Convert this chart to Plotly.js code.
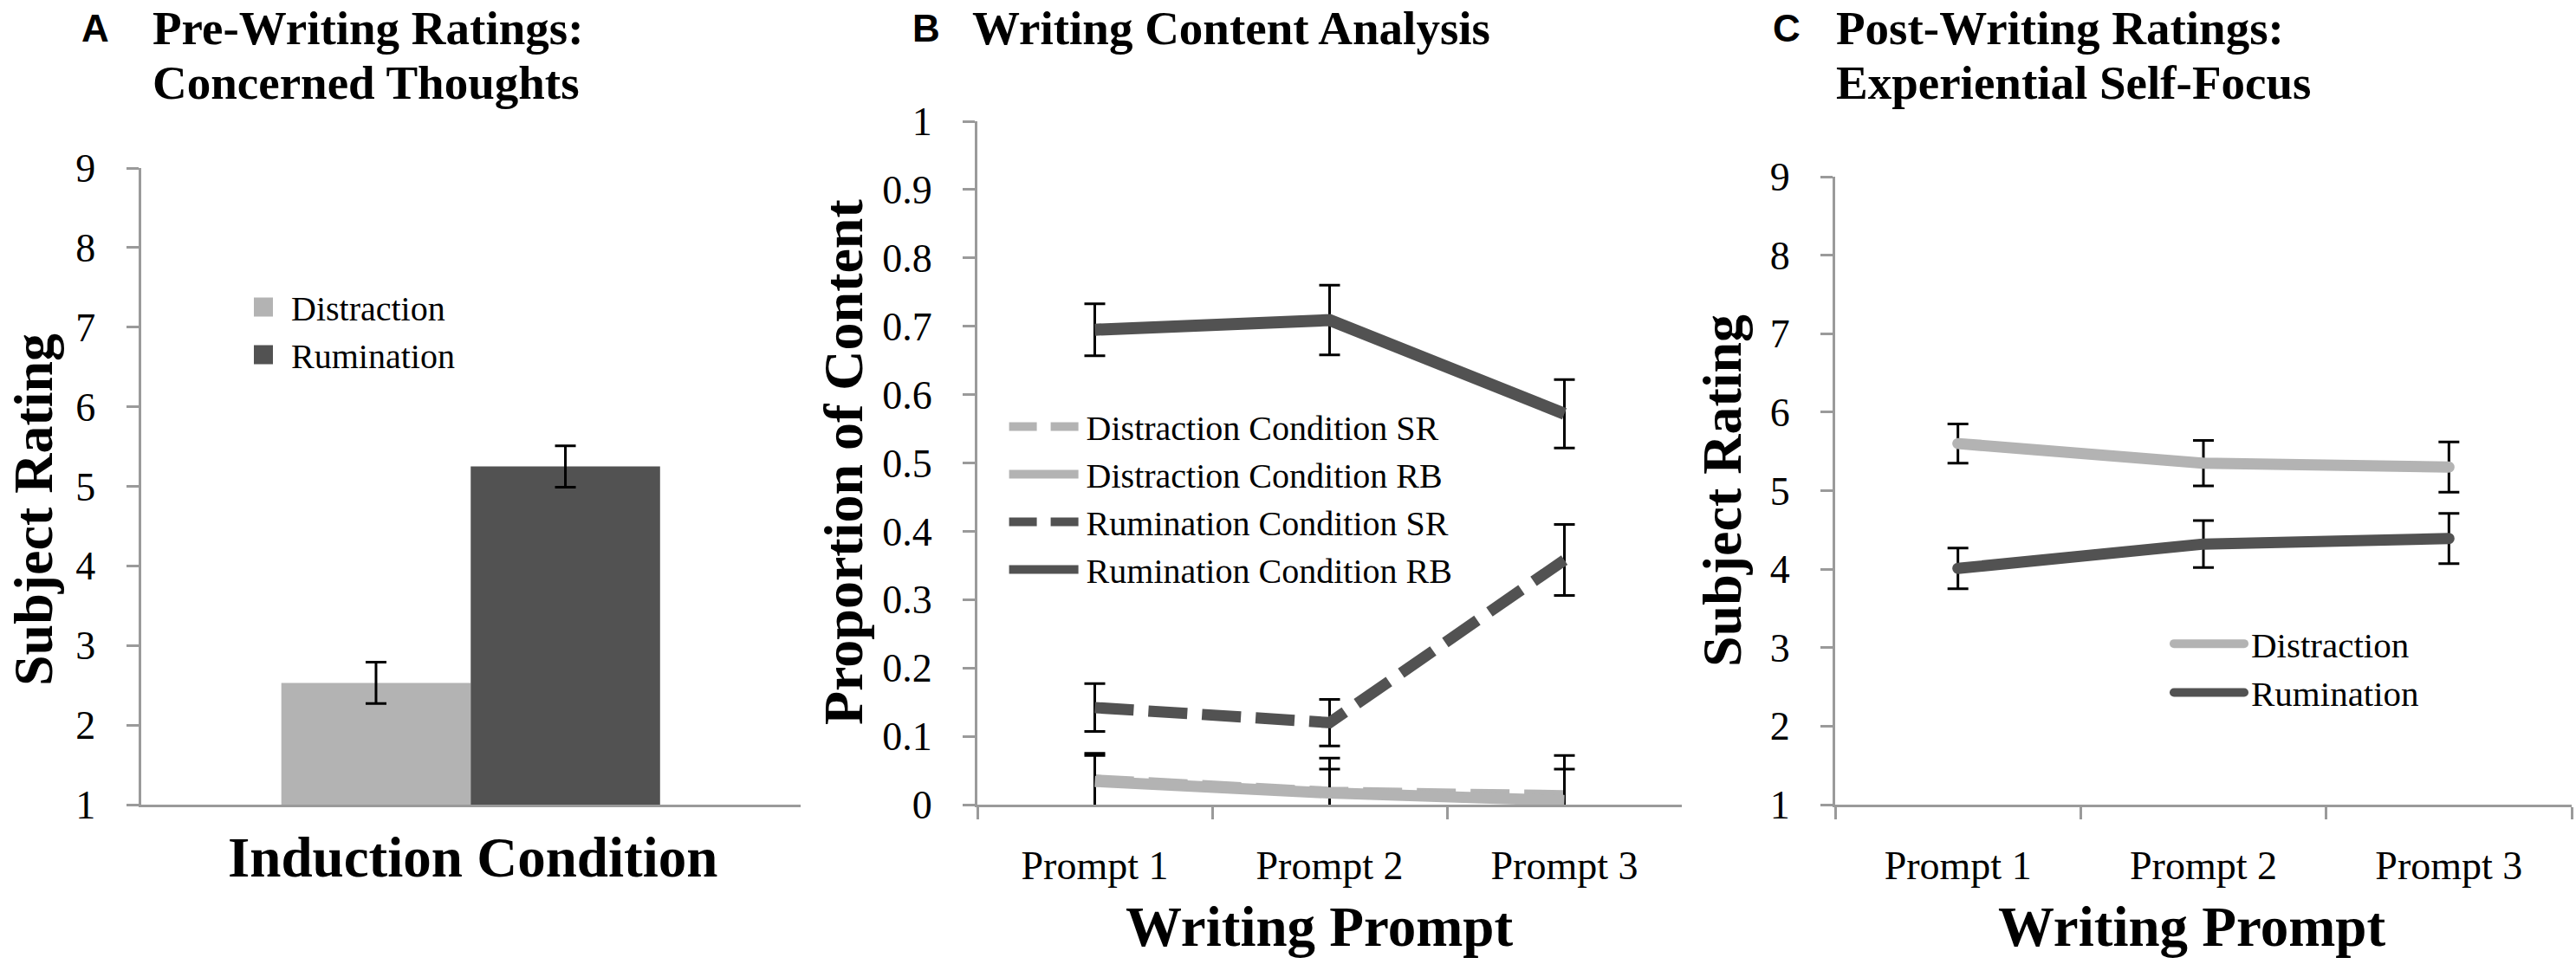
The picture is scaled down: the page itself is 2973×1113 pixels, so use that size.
<!DOCTYPE html>
<html>
<head>
<meta charset="utf-8">
<script src="https://cdn.plot.ly/plotly-3.0.1.min.js"></script>
<style>
  html, body { margin: 0; padding: 0; background: #fff; }
  #chart { width: 2973px; height: 1113px; }
  .x3y3 .scatterlayer path.js-line,
  .legend3 .legendlines path { stroke-linecap: round; stroke-linejoin: round; }
</style>
</head>
<body>
<div id="chart"></div>
<script>
// values
const conditions = ['Distraction', 'Rumination'];
const induction = ['Induction'];
const prompts = ['Prompt 1', 'Prompt 2', 'Prompt 3'];

// A: pre-writing concerned thoughts
const preRating = [2.53, 5.25];
const preRatingErr = [0.26, 0.26];

// B: writing content analysis
const contentNames = ['Distraction Condition SR', 'Distraction Condition RB',
                      'Rumination Condition SR', 'Rumination Condition RB'];
const distSR = [0.036, 0.018, 0.013];
const distSRErr = [0.039, 0.050, 0.059];
const distRB = [0.034, 0.017, 0.006];
const distRBErr = [0.038, 0.035, 0.046];
const rumSR = [0.142, 0.120, 0.358];
const rumSRErr = [0.035, 0.034, 0.052];
const rumRB = [0.695, 0.709, 0.572];
const rumRBErr = [0.038, 0.051, 0.050];

// C: post-writing experiential self-focus
const postDist = [5.60, 5.35, 5.30];
const postDistErr = [0.25, 0.29, 0.32];
const postRum = [4.01, 4.32, 4.39];
const postRumErr = [0.26, 0.30, 0.32];

const W = 2973, H = 1113;
const px = v => v / W;
const py = v => 1 - v / H;

const light = '#b3b3b3';
const dark = '#525252';
const axisGray = '#9a9a9a';
const serif = 'Liberation Serif, Times New Roman, serif';
const sans = 'Liberation Sans, Arial, sans-serif';

function errBar(arr) {
  return { type: 'data', array: arr, visible: true, color: '#000', thickness: 3, width: 12 };
}

const data = [
  // A
  { type: 'bar', x: induction, y: [preRating[0]], name: conditions[0], marker: { color: light },
    error_y: errBar([preRatingErr[0]]), xaxis: 'x', yaxis: 'y', legend: 'legend' },
  { type: 'bar', x: induction, y: [preRating[1]], name: conditions[1], marker: { color: dark },
    error_y: errBar([preRatingErr[1]]), xaxis: 'x', yaxis: 'y', legend: 'legend' },
  // B
  { type: 'scatter', mode: 'lines', x: prompts, y: distSR, name: contentNames[0],
    line: { color: light, width: 13, dash: '45px,17px' }, error_y: errBar(distSRErr),
    xaxis: 'x2', yaxis: 'y2', legend: 'legend2' },
  { type: 'scatter', mode: 'lines', x: prompts, y: distRB, name: contentNames[1],
    line: { color: light, width: 13 }, error_y: errBar(distRBErr),
    xaxis: 'x2', yaxis: 'y2', legend: 'legend2' },
  { type: 'scatter', mode: 'lines', x: prompts, y: rumSR, name: contentNames[2],
    line: { color: dark, width: 13, dash: '45px,17px' }, error_y: errBar(rumSRErr),
    xaxis: 'x2', yaxis: 'y2', legend: 'legend2' },
  { type: 'scatter', mode: 'lines', x: prompts, y: rumRB, name: contentNames[3],
    line: { color: dark, width: 14 }, error_y: errBar(rumRBErr),
    xaxis: 'x2', yaxis: 'y2', legend: 'legend2' },
  // C
  { type: 'scatter', mode: 'lines', x: prompts, y: postDist, name: conditions[0], legendgroup: 'd',
    line: { color: light, width: 13 }, error_y: errBar(postDistErr),
    xaxis: 'x3', yaxis: 'y3', legend: 'legend3' },
  { type: 'scatter', mode: 'lines', x: prompts, y: postRum, name: conditions[1], legendgroup: 'r',
    line: { color: dark, width: 13 }, error_y: errBar(postRumErr),
    xaxis: 'x3', yaxis: 'y3', legend: 'legend3' }
];

const tickFont = { family: serif, size: 46, color: '#000' };

function xAxis(domain, anchor, nCat, labels) {
  return {
    domain: domain, anchor: anchor, type: 'category', range: [-0.5, nCat - 0.5],
    showline: true, linecolor: axisGray, linewidth: 3, showgrid: false, zeroline: false,
    ticks: labels ? 'outside' : '', tickson: 'boundaries', ticklen: 14, tickwidth: 3, tickcolor: axisGray,
    showticklabels: labels, tickfont: tickFont, ticklabelstandoff: 28, fixedrange: true
  };
}
function yAxis(domain, anchor, range, dtick) {
  return {
    domain: domain, anchor: anchor, range: range, dtick: dtick, tick0: 0,
    showline: true, linecolor: axisGray, linewidth: 3, showgrid: false, zeroline: false,
    ticks: 'outside', ticklen: 14, tickwidth: 3, tickcolor: axisGray,
    tickfont: tickFont, ticklabelstandoff: 26, fixedrange: true
  };
}

function label(text, x, y, opts) {
  return Object.assign({
    text: text, x: px(x), y: py(y), xref: 'paper', yref: 'paper', showarrow: false,
    xanchor: 'left', yanchor: 'middle', borderpad: 0,
    font: { family: serif, size: 55, color: '#000', weight: 700 }
  }, opts || {});
}
const letterFont = { family: sans, size: 44, color: '#000', weight: 700 };
const axisTitleFont = { family: serif, size: 65, color: '#000', weight: 700 };
const yTitleFont = { family: serif, size: 64, color: '#000', weight: 700 };

const annotations = [
  label('A', 110, 32, { xanchor: 'center', font: letterFont }),
  label('Pre-Writing Ratings:', 175, 32),
  label('Concerned Thoughts', 175, 95),
  label('B', 1069, 32, { xanchor: 'center', font: letterFont }),
  label('Writing Content Analysis', 1121, 32),
  label('C', 2062, 32, { xanchor: 'center', font: letterFont }),
  label('Post-Writing Ratings:', 2118, 32),
  label('Experiential Self-Focus', 2118, 95),
  label('Subject Rating', 38, 589, { xanchor: 'center', textangle: -90, font: yTitleFont }),
  label('Proportion of Content', 974, 534, { xanchor: 'center', textangle: -90, font: yTitleFont }),
  label('Subject Rating', 1987, 567, { xanchor: 'center', textangle: -90, font: yTitleFont }),
  label('Induction Condition', 545, 990, { xanchor: 'center', font: axisTitleFont }),
  label('Writing Prompt', 1523, 1070, { xanchor: 'center', font: axisTitleFont }),
  label('Writing Prompt', 2530, 1070, { xanchor: 'center', font: axisTitleFont })
];

const legendFont = { family: serif, size: 40, color: '#000' };

const layout = {
  width: W, height: H,
  margin: { l: 0, r: 0, t: 0, b: 0 },
  paper_bgcolor: '#fff', plot_bgcolor: 'rgba(0,0,0,0)',
  showlegend: true,
  barmode: 'group', bargap: 0.426, bargroupgap: 0,
  xaxis: xAxis([px(162.5), px(924)], 'y', 1, false),
  yaxis: yAxis([py(929), py(194)], 'x', [1, 9], 1),
  xaxis2: xAxis([px(1128), px(1941)], 'y2', 3, true),
  yaxis2: yAxis([py(929), py(140)], 'x2', [0, 1], 0.1),
  xaxis3: xAxis([px(2118), px(2968)], 'y3', 3, true),
  yaxis3: yAxis([py(929), py(204)], 'x3', [1, 9], 1),
  legend: { x: px(272), y: py(322), xanchor: 'left', yanchor: 'top', font: legendFont,
            itemwidth: 54, bgcolor: 'rgba(0,0,0,0)', traceorder: 'normal' },
  legend2: { x: px(1158.6), y: py(460), xanchor: 'left', yanchor: 'top', font: legendFont,
             itemwidth: 85, bgcolor: 'rgba(0,0,0,0)', traceorder: 'normal' },
  legend3: { x: px(2493), y: py(710), xanchor: 'left', yanchor: 'top',
             font: { family: serif, size: 41, color: '#000' },
             itemwidth: 95, tracegroupgap: 6, bgcolor: 'rgba(0,0,0,0)', traceorder: 'normal' },
  annotations: annotations
};

// Excel-style legend keys: bigger squares, long line samples
function styleLegendKeys() {
  document.querySelectorAll('.legend .legendpoints path').forEach(p => p.setAttribute('d', 'M11,11H-11V-11H11Z'));
  document.querySelectorAll('.legend2 .legendlines path').forEach(p => {
    p.setAttribute('d', 'M6,0h80');
    if (p.style.strokeDasharray && p.style.strokeDasharray !== 'none') p.style.strokeDasharray = '32px,16px';
  });
  document.querySelectorAll('.legend3 .legendlines path').forEach(p => p.setAttribute('d', 'M16,0h81'));
}

Plotly.newPlot('chart', data, layout, { displayModeBar: false, responsive: false })
  .then(styleLegendKeys);
</script>
</body>
</html>
